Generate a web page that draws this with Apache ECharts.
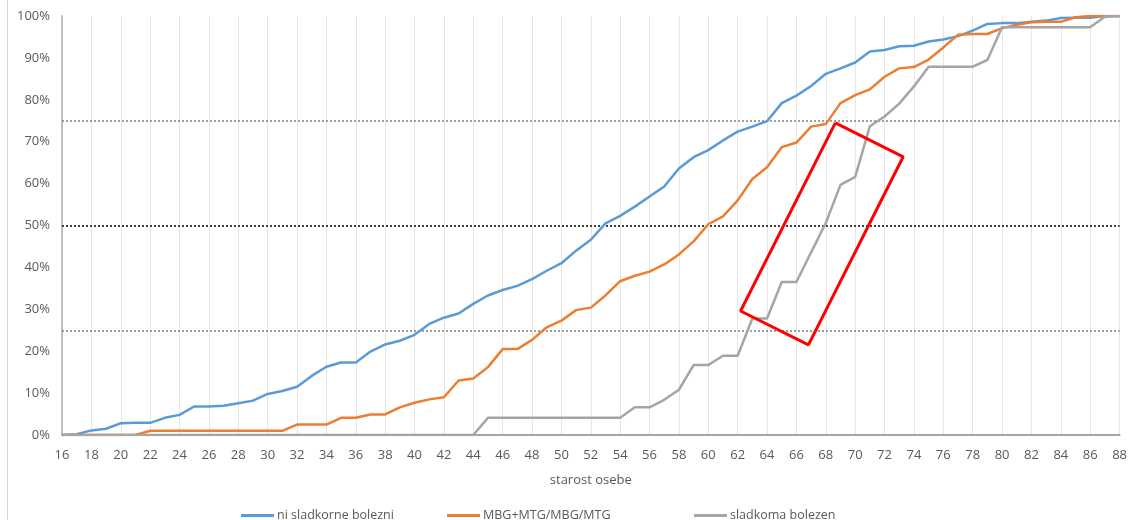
<!DOCTYPE html>
<html>
<head>
<meta charset="utf-8">
<script src="https://cdn.jsdelivr.net/npm/echarts@6/dist/echarts.min.js"></script>
<style>html,body{margin:0;padding:0;background:#fff;}#c{width:1130px;height:520px;}</style>
</head>
<body>
<div id="c"></div>
<script>
const ages = [];
for (let a = 16; a <= 88; a++) ages.push(a);

const seriesNames = ['ni sladkorne bolezni', 'MBG+MTG/MBG/MTG', 'sladkoma bolezen'];

const niSladkorne = [
  0, 0.2, 1.1, 1.5, 2.8, 2.9, 2.9, 4.1, 4.8, 6.8,
  6.8, 7.0, 7.6, 8.2, 9.8, 10.5, 11.5, 14.1, 16.3, 17.3,
  17.3, 19.9, 21.6, 22.5, 23.9, 26.5, 28.0, 29.0, 31.3, 33.3,
  34.6, 35.6, 37.2, 39.2, 41.0, 44.0, 46.6, 50.5, 52.3, 54.5,
  56.9, 59.3, 63.6, 66.3, 68.0, 70.3, 72.4, 73.6, 74.9, 79.2,
  81.0, 83.3, 86.2, 87.5, 88.9, 91.5, 91.9, 92.8, 92.9, 93.9,
  94.4, 95.2, 96.5, 98.1, 98.3, 98.3, 98.6, 98.9, 99.5, 99.6,
  99.6, 100, 100
];
const mbgMtg = [
  0, 0, 0, 0, 0, 0, 1.0, 1.0, 1.0, 1.0,
  1.0, 1.0, 1.0, 1.0, 1.0, 1.0, 2.5, 2.5, 2.5, 4.1,
  4.1, 4.9, 4.9, 6.6, 7.7, 8.5, 9.0, 13.0, 13.5, 16.2,
  20.5, 20.5, 22.7, 25.7, 27.3, 29.8, 30.4, 33.3, 36.7, 38.0,
  39.0, 40.7, 43.1, 46.2, 50.3, 52.2, 56.0, 61.1, 63.9, 68.7,
  69.8, 73.6, 74.2, 79.2, 81.1, 82.5, 85.5, 87.5, 87.8, 89.6,
  92.5, 95.5, 95.7, 95.7, 97.1, 97.9, 98.5, 98.6, 98.6, 99.7,
  100, 100, 100
];
const sladkoma = [
  0, 0, 0, 0, 0, 0, 0, 0, 0, 0,
  0, 0, 0, 0, 0, 0, 0, 0, 0, 0,
  0, 0, 0, 0, 0, 0, 0, 0, 0, 4.1,
  4.1, 4.1, 4.1, 4.1, 4.1, 4.1, 4.1, 4.1, 4.1, 6.6,
  6.6, 8.4, 10.8, 16.7, 16.7, 18.9, 18.9, 27.8, 27.8, 36.5,
  36.5, 43.6, 50.6, 59.7, 61.6, 73.7, 76.0, 79.1, 83.2, 87.9,
  87.9, 87.9, 87.9, 89.5, 97.3, 97.3, 97.3, 97.3, 97.3, 97.3,
  97.3, 99.8, 100
];

// reference lines (quartiles)
const refLines = [25, 50, 75];
// highlighted region (rotated box), corners in [age, %]
const boxCorners = [[68.65, 74.5], [73.27, 66.4], [66.82, 21.5], [62.2, 29.6], [68.65, 74.5]];

const colors = ['#5B9BD5', '#ED7D31', '#A5A5A5'];
const values = [niSladkorne, mbgMtg, sladkoma];
const FONT = 'Open Sans';
const TXT = '#595959';
const legendLefts = [236, 442, 689];

const chart = echarts.init(document.getElementById('c'), null, {renderer: 'canvas'});

const series = values.map((vals, i) => ({
  name: seriesNames[i],
  type: 'line',
  data: ages.map((a, k) => [a, vals[k]]),
  symbol: 'none',
  smooth: false,
  lineStyle: {width: 2.5, color: colors[i]},
  itemStyle: {color: colors[i]},
  z: 3 + i,
  emphasis: {disabled: true}
}));

series[0].markLine = {
  silent: true,
  symbol: 'none',
  label: {show: false},
  data: refLines.map(v => ({
    yAxis: v,
    lineStyle: {type: [2, 2], color: v === 50 ? '#404040' : '#7f7f7f', width: v === 50 ? 2 : 1.5}
  })),
  z: 2
};

series.push({
  name: 'box',
  type: 'line',
  data: boxCorners,
  symbol: 'none',
  lineStyle: {width: 3, color: '#FF0000'},
  z: 10,
  silent: true,
  emphasis: {disabled: true}
});

chart.setOption({
  animation: false,
  textStyle: {fontFamily: FONT},
  graphic: [{
    type: 'rect',
    shape: {x: 7.5, y: -5, width: 1200, height: 600},
    style: {fill: 'none', stroke: '#d9d9d9', lineWidth: 1},
    silent: true
  }],
  grid: {left: 62, right: 8, top: 16, bottom: 85},
  xAxis: {
    type: 'value',
    min: 16, max: 88, interval: 2,
    name: 'starost osebe',
    nameLocation: 'middle',
    nameGap: 39,
    nameTextStyle: {color: TXT, fontSize: 13, fontFamily: FONT},
    axisLine: {show: true, lineStyle: {color: '#a6a6a6', width: 2}},
    axisTick: {show: false},
    axisLabel: {color: TXT, fontSize: 13, margin: 14, fontFamily: FONT},
    splitLine: {show: true, lineStyle: {color: '#e6e6e6', width: 1}}
  },
  yAxis: {
    type: 'value',
    min: 0, max: 100, interval: 10,
    axisLine: {show: true, lineStyle: {color: '#bfbfbf', width: 2}},
    axisTick: {show: false},
    axisLabel: {color: TXT, fontSize: 13, margin: 12, formatter: '{value}%', fontFamily: FONT},
    splitLine: {show: false}
  },
  legend: seriesNames.map((n, i) => ({
    data: [n],
    left: legendLefts[i],
    top: 504,
    itemWidth: 33,
    itemHeight: 3,
    icon: 'rect',
    textStyle: {color: TXT, fontSize: 12.5, fontFamily: FONT, padding: [0, 0, 0, -2]}
  })),
  series: series
});
</script>
</body>
</html>
